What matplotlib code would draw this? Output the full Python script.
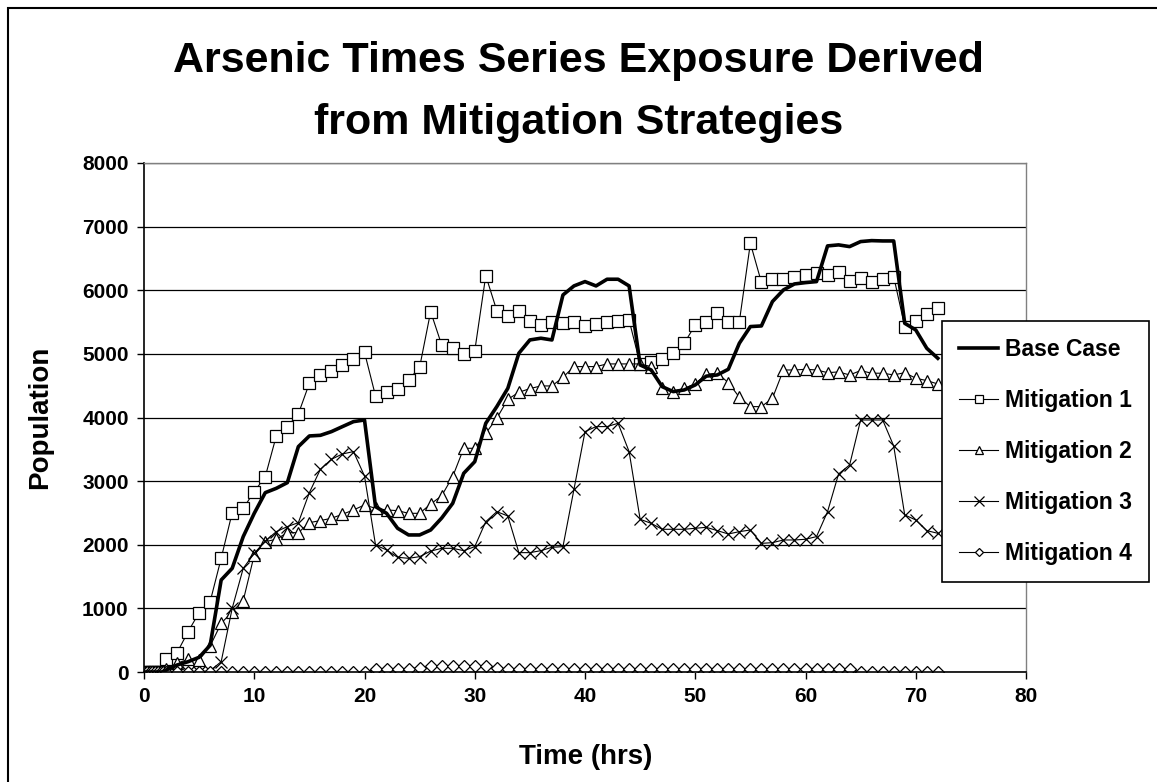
import matplotlib
matplotlib.use("Agg")
import matplotlib.pyplot as plt
from matplotlib.patches import Rectangle

plt.rcParams['font.family'] = ['Liberation Sans', 'DejaVu Sans']
plt.rcParams['font.weight'] = 'bold'

# time points (hrs): a few sub-hour samples at the start, then hourly
hours = [0, 0.25, 0.5, 0.75, 1, 1.25, 1.5, 1.75] + list(range(2, 73))

base_case = [0, 0, 0, 0, 0, 0, 0, 0,
             30, 110, 162, 231, 420, 1446, 1630, 2128, 2494, 2819,
             2887, 2976, 3542, 3710, 3720, 3778, 3857, 3935, 3961, 2599,
             2494, 2259, 2154, 2154, 2232, 2420, 2651, 3123, 3306, 3909,
             4171, 4459, 5010, 5219, 5246, 5219, 5926, 6068, 6136, 6068,
             6173, 6173, 6068, 4826, 4747, 4485, 4407, 4433, 4512, 4650,
             4669, 4758, 5167, 5429, 5439, 5822, 6005, 6099, 6120, 6136,
             6697, 6713, 6686, 6765, 6780, 6775, 6775, 5481, 5376, 5088,
             4931]

mitigation_1 = [0, 0, 0, 0, 0, 0, 0, 0,
                204, 304, 634, 933, 1106, 1787, 2505, 2573, 2835, 3071,
                3710, 3857, 4056, 4538, 4669, 4737, 4826, 4920, 5025, 4339,
                4407, 4444, 4590, 4790, 5664, 5140, 5098, 4999, 5046, 6230,
                5680, 5596, 5680, 5523, 5455, 5497, 5480, 5507, 5439, 5470,
                5497, 5523, 5530, 4842, 4878, 4915, 5010, 5167, 5455, 5507,
                5649, 5507, 5507, 6739, 6125, 6173, 6173, 6204, 6241, 6267,
                6241, 6293, 6152, 6194, 6136, 6173, 6215, 5429, 5523, 5628,
                5717]

mitigation_2 = [0, 0, 0, 0, 0, 0, 0, 0,
                40, 137, 200, 189, 409, 765, 948, 1121, 1839, 2049,
                2086, 2190, 2190, 2347, 2380, 2416, 2479, 2547, 2625, 2573,
                2547, 2536, 2494, 2494, 2640, 2770, 3071, 3516, 3516, 3752,
                3988, 4286, 4396, 4454, 4496, 4496, 4632, 4800, 4800, 4800,
                4842, 4842, 4842, 4842, 4800, 4470, 4407, 4459, 4527, 4680,
                4696, 4548, 4318, 4171, 4171, 4302, 4747, 4747, 4758, 4747,
                4705, 4716, 4669, 4737, 4696, 4696, 4669, 4705, 4617, 4580,
                4527]

mitigation_3 = [0, 0, 0, 0, 0, 0, 0, 0,
                0, 0, 0, 0, 20, 162, 1001, 1630, 1865, 2059,
                2206, 2285, 2347, 2819, 3186, 3343, 3427, 3464, 3081, 1996,
                1918, 1803, 1787, 1813, 1900, 1944, 1944, 1907, 1970, 2363,
                2520, 2452, 1876, 1876, 1907, 1960, 1970, 2872, 3778, 3857,
                3857, 3909, 3464, 2400, 2337, 2243, 2243, 2243, 2259, 2274,
                2222, 2169, 2206, 2232, 2022, 2033, 2075, 2075, 2086, 2128,
                2520, 3113, 3254, 3961, 3961, 3961, 3553, 2468, 2390, 2222,
                2180]

mitigation_4 = [0, 0, 0, 0, 0, 0, 0, 0,
                0, 0, 0, 0, 0, 0, 0, 0, 0, 0,
                0, 0, 0, 0, 0, 0, 0, 0, 0, 40,
                45, 45, 50, 70, 95, 95, 95, 95, 95, 95,
                70, 45, 45, 45, 45, 45, 45, 45, 45, 45,
                45, 45, 45, 45, 45, 45, 45, 45, 45, 45,
                45, 45, 45, 45, 45, 45, 45, 45, 45, 45,
                45, 45, 45, 0, 0, 0, 0, 0, 0, 0,
                0]

W, H = 1157, 782
fig = plt.figure(figsize=(W / 100, H / 100), dpi=100)

# outer chart border (runs off the right/bottom of the image)
fig.patches.append(Rectangle((8 / W, -0.01), 1.02, 1 - 8 / H + 0.01,
                             transform=fig.transFigure, fill=False,
                             edgecolor='black', linewidth=1.5))

ax = fig.add_axes([144 / W, 1 - 672 / H, 882 / W, 509 / H])

ax.plot(hours, base_case, color='black', lw=2.6, label='Base Case', zorder=5)
ax.plot(hours, mitigation_1, color='black', lw=0.8, marker='s', ms=8,
        mfc='white', mec='black', mew=0.9, label='Mitigation 1')
ax.plot(hours, mitigation_2, color='black', lw=0.8, marker='^', ms=8.5,
        mfc='white', mec='black', mew=0.9, label='Mitigation 2')
ax.plot(hours, mitigation_3, color='black', lw=0.8, marker='x', ms=9,
        mew=0.9, label='Mitigation 3')
ax.plot(hours, mitigation_4, color='black', lw=0.8, marker='D', ms=6,
        mfc='white', mec='black', mew=0.9, label='Mitigation 4')

ax.set_xlim(0, 80)
ax.set_ylim(0, 8000)
ax.set_xticks(range(0, 81, 10))
ax.set_yticks(range(0, 8001, 1000))
ax.yaxis.grid(True, color='black', lw=0.9)
ax.set_axisbelow(True)
ax.tick_params(direction='out', length=5, width=1, labelsize=15, pad=6)
for lab in ax.get_xticklabels() + ax.get_yticklabels():
    lab.set_fontweight('bold')
for s in ['left', 'bottom']:
    ax.spines[s].set_color('black')
    ax.spines[s].set_linewidth(1.2)
for s in ['top', 'right']:
    ax.spines[s].set_color('#808080')
    ax.spines[s].set_linewidth(1)

fig.text(40 / W, 1 - 417 / H, 'Population', rotation=90, ha='center',
         va='center', fontsize=20, fontweight='bold')
fig.text(586 / W, 1 - 757 / H, 'Time (hrs)', ha='center', va='center',
         fontsize=20, fontweight='bold')
fig.text(0.5, 1 - 61 / H, 'Arsenic Times Series Exposure Derived',
         ha='center', va='center', fontsize=31, fontweight='bold')
fig.text(0.5, 1 - 123 / H, 'from Mitigation Strategies',
         ha='center', va='center', fontsize=31, fontweight='bold')

leg = ax.legend(loc='upper left', bbox_to_anchor=(942 / W, 1 - 321 / H),
                bbox_transform=fig.transFigure, borderaxespad=0,
                frameon=True, fancybox=False, edgecolor='black', framealpha=1,
                prop={'weight': 'bold', 'size': 16.5},
                handlelength=1.7, labelspacing=1.22, borderpad=0.75,
                handletextpad=0.3, markerscale=0.75)
leg.get_frame().set_linewidth(1.2)
leg.set_zorder(10)

fig.savefig('out.png', dpi=100)
